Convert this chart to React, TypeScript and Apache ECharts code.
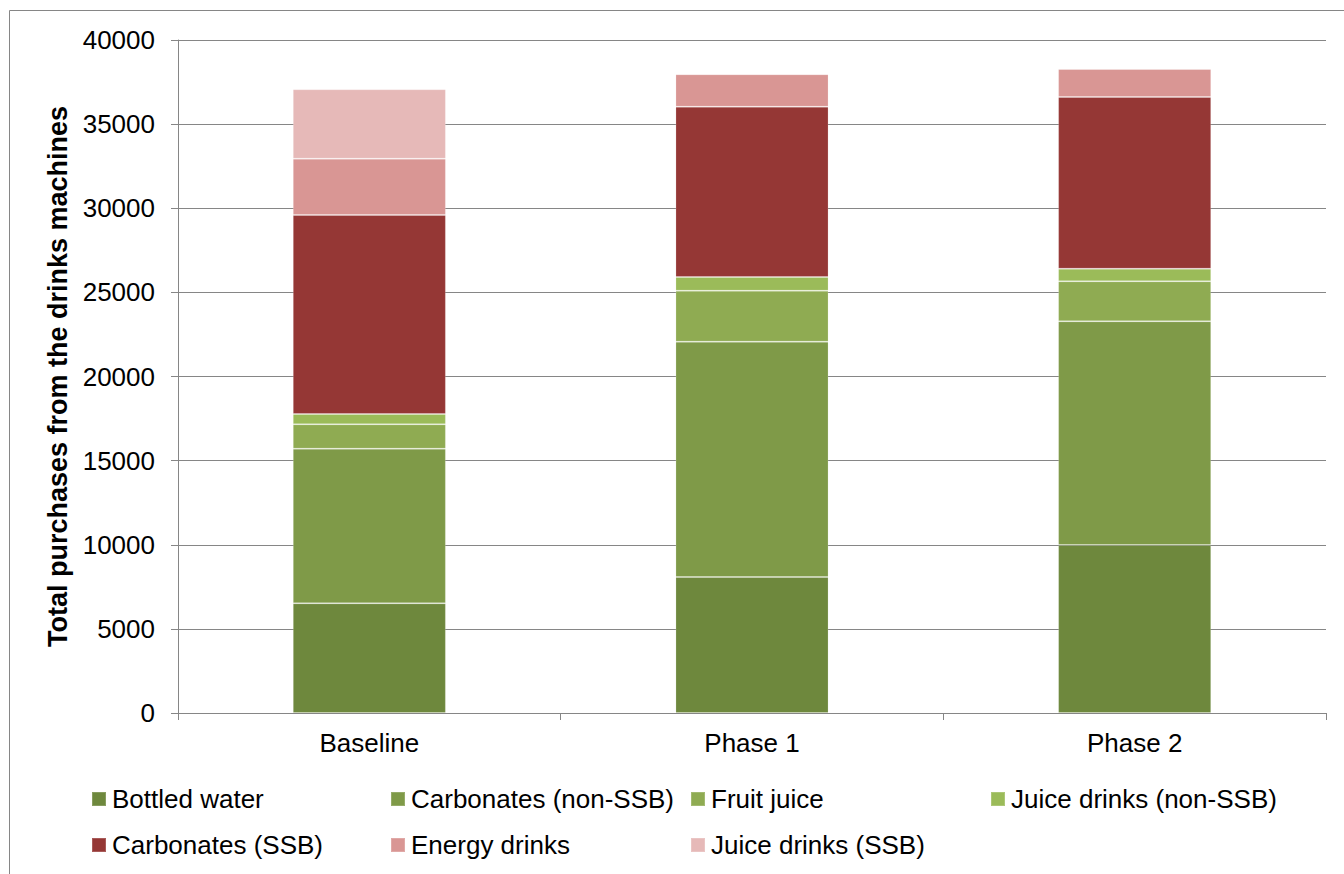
import React, { useEffect, useRef } from "react";
import * as echarts from "echarts";

const categories = ["Baseline", "Phase 1", "Phase 2"];
const seriesNames = [
  "Bottled water",
  "Carbonates (non-SSB)",
  "Fruit juice",
  "Juice drinks (non-SSB)",
  "Carbonates (SSB)",
  "Energy drinks",
  "Juice drinks (SSB)",
];
const bottledWater = [6520, 8080, 9985];
const carbonatesNonSSB = [9190, 13990, 13296];
const fruitJuice = [1450, 3030, 2377];
const juiceDrinksNonSSB = [612, 814, 749];
const carbonatesSSB = [11828, 10122, 10205];
const energyDrinks = [3346, 1925, 1664];
const juiceDrinksSSB = [4125, 0, 0];
const yTicks = [0, 5000, 10000, 15000, 20000, 25000, 30000, 35000, 40000];

const seriesValues = [
  bottledWater,
  carbonatesNonSSB,
  fruitJuice,
  juiceDrinksNonSSB,
  carbonatesSSB,
  energyDrinks,
  juiceDrinksSSB,
];
const colors = ["#6E883D", "#7F9A48", "#8FAB52", "#9BBB59", "#953735", "#D99694", "#E6B9B8"];

// legend positions (marker left, row top)
const legendPos: [number, number][] = [
  [91, 786],
  [390, 786],
  [690, 786],
  [990, 786],
  [91, 832],
  [390, 832],
  [690, 832],
];

const FONT = "'Liberation Sans', Arial, sans-serif";

export default function App() {
  const ref = useRef<HTMLDivElement>(null);
  useEffect(() => {
    if (!ref.current) return;
    const chart = echarts.init(ref.current, undefined, { renderer: "svg" });
    chart.setOption({
      animation: false,
      backgroundColor: "#ffffff",
      textStyle: { fontFamily: FONT },
      graphic: [
        {
          type: "rect",
          shape: { x: 9.5, y: 10.5, width: 1400, height: 900 },
          style: { fill: "none", stroke: "#868686", lineWidth: 1 },
          silent: true,
        },
      ],
      legend: seriesNames.map((n, i) => ({
        data: [n],
        left: legendPos[i][0],
        top: legendPos[i][1],
        padding: 0,
        icon: "rect",
        itemWidth: 14,
        itemHeight: 14,
        itemGap: 0,
        selectedMode: false,
        textStyle: { fontSize: 26, color: "#000", fontFamily: FONT, padding: [0, 0, 0, 1] },
      })),
      grid: { left: 178, right: 18, top: 40, bottom: 161, containLabel: false },
      xAxis: {
        type: "category",
        data: categories,
        axisLine: { lineStyle: { color: "#868686", width: 1 } },
        axisTick: { show: true, length: 7, lineStyle: { color: "#868686" }, alignWithLabel: false },
        axisLabel: { fontSize: 26, color: "#000", margin: 17, fontFamily: FONT },
      },
      yAxis: {
        type: "value",
        min: 0,
        max: 40000,
        interval: 5000,
        name: "Total purchases from the drinks machines",
        nameLocation: "middle",
        nameGap: 96,
        nameTextStyle: { fontSize: 27, fontWeight: "bold", color: "#000", fontFamily: FONT },
        axisLine: { show: true, lineStyle: { color: "#868686", width: 1 } },
        axisTick: { show: true, length: 7, lineStyle: { color: "#868686" } },
        axisLabel: {
          fontSize: 26,
          color: "#000",
          margin: 23,
          fontFamily: FONT,
          formatter: (v: number) => (yTicks.includes(v) ? String(v) : ""),
        },
        splitLine: { show: true, lineStyle: { color: "#868686", width: 1 } },
      },
      series: seriesNames.map((n, i) => ({
        name: n,
        type: "bar",
        stack: "total",
        barWidth: "40%",
        data: seriesValues[i],
        itemStyle: {
          color: colors[i],
          borderColor: "rgba(255,255,255,0.18)",
          borderWidth: 1,
        },
      })),
    });
    return () => chart.dispose();
  }, []);
  return (
    <div
      ref={ref}
      style={{ position: "fixed", left: 0, top: 0, width: 1344, height: 874 }}
    />
  );
}
